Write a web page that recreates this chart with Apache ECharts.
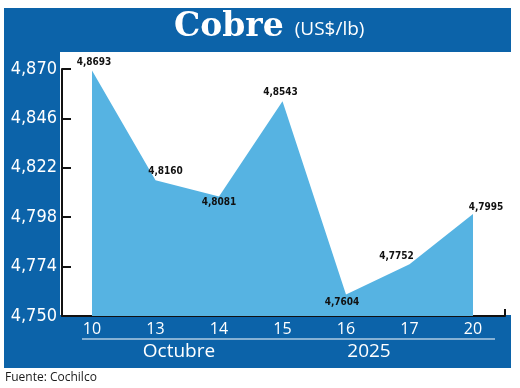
<!DOCTYPE html>
<html><head><meta charset="utf-8">
<script src="https://cdn.jsdelivr.net/npm/echarts@6/dist/echarts.min.js"></script>
<style>html,body{margin:0;padding:0;background:#fff}#c{width:520px;height:388px}</style>
</head><body><div id="c"></div>
<script>
const categories = ['10','13','14','15','16','17','20'];
const values = [4.8693, 4.8160, 4.8081, 4.8543, 4.7604, 4.7752, 4.7995];
const yTicks = [4.750, 4.774, 4.798, 4.822, 4.846, 4.870];
const monthLabel = 'Octubre';
const yearLabel = '2025';
const titleMain = 'Cobre';
const titleUnit = '(US$/lb)';
const sourceText = 'Fuente: Cochilco';

const BLUE = '#0c63a9';
const AREA = '#56b3e2';
const narrow = '"Liberation Sans Narrow","DejaVu Sans Condensed","DejaVu Sans",sans-serif';

// label placement per point (style only)
const labelPlace = [
  {position:'top', distance:3, offset:[2,0]},
  {position:'top', distance:4, offset:[10,0]},
  {position:'bottom', distance:1, offset:[0,0]},
  {position:'top', distance:4, offset:[-2,0]},
  {position:'bottom', distance:3, offset:[-4,0]},
  {position:'top', distance:3, offset:[-13,0]},
  {position:'top', distance:2, offset:[13,0]}
];

const seriesData = values.map((v,i)=>({value:v, label:labelPlace[i]}));
const yMin = yTicks[0], yMax = yTicks[yTicks.length-1];

const chart = echarts.init(document.getElementById('c'), null, {renderer:'canvas'});
chart.setOption({
  animation:false,
  backgroundColor:'transparent',
  title:{
    left:174, top:11, padding:0,
    text:'{a|'+titleMain+'} {b|'+titleUnit+'}',
    textStyle:{fontWeight:'normal', rich:{
      a:{fontFamily:'"DejaVu Serif",serif', fontWeight:'bold', fontSize:33, color:'#fff'},
      b:{fontFamily:'"Open Sans",sans-serif', fontWeight:'normal', fontSize:19, color:'#fff', padding:[4,0,0,6]}
    }}
  },
  graphic:[
    {type:'rect', z:-10, shape:{x:4,y:8,width:507,height:360}, style:{fill:BLUE}},
    {type:'rect', z:-9, shape:{x:60,y:52,width:451,height:263}, style:{fill:'#fff'}},
    {type:'line', z:5, shape:{x1:82,y1:339,x2:495,y2:339}, style:{stroke:'#fff', lineWidth:1.2}},
    {type:'line', z:5, shape:{x1:505,y1:316,x2:505,y2:309}, style:{stroke:'#111', lineWidth:2}},
    {type:'text', z:5, x:179, y:352, style:{text:monthLabel, fill:'#fff', font:'19px "Open Sans",sans-serif', textAlign:'center', textVerticalAlign:'middle'}},
    {type:'text', z:5, x:369, y:352, style:{text:yearLabel, fill:'#fff', font:'19px "Open Sans",sans-serif', textAlign:'center', textVerticalAlign:'middle'}},
    {type:'text', z:5, x:5, y:378, style:{text:sourceText, fill:'#1a1a1a', font:'12px "Open Sans",sans-serif', textAlign:'left', textVerticalAlign:'middle'}}
  ],
  grid:[
    {left:62, right:15, top:69, bottom:72},
    {left:92, right:47, top:69, bottom:72}
  ],
  xAxis:[
    {gridIndex:0, type:'value', min:0, max:1, axisLine:{show:true, lineStyle:{color:'#111', width:2}},
     axisTick:{show:false}, axisLabel:{show:false}, splitLine:{show:false}},
    {gridIndex:1, type:'category', data:categories, boundaryGap:false,
     axisLine:{show:false}, axisTick:{show:false}, splitLine:{show:false},
     axisLabel:{color:'#fff', fontSize:16, fontFamily:'"Open Sans",sans-serif', margin:5}}
  ],
  yAxis:[
    {gridIndex:0, type:'value', min:yMin, max:yMax,
     axisLine:{show:true, lineStyle:{color:'#111', width:2}},
     axisTick:{show:true, inside:true, length:9, lineStyle:{color:'#111', width:2}, customValues:yTicks},
     axisLabel:{color:'#fff', fontSize:18, fontFamily:narrow, margin:5, customValues:yTicks,
       formatter:v=>Number(v).toFixed(3).replace('.',',')},
     splitLine:{show:false}},
    {gridIndex:1, type:'value', min:yMin, max:yMax, show:false, splitLine:{show:false}}
  ],
  series:[{
    type:'line', xAxisIndex:1, yAxisIndex:1, data:seriesData,
    symbol:'circle', symbolSize:0.1, showSymbol:true,
    itemStyle:{color:AREA},
    lineStyle:{width:0, color:AREA},
    areaStyle:{color:AREA, opacity:1, origin:'start'},
    label:{show:true, color:'#111', fontSize:10, fontWeight:'bold', fontFamily:narrow,
      formatter:p=>p.value.toFixed(4).replace('.',',')}
  }]
});
</script></body></html>
